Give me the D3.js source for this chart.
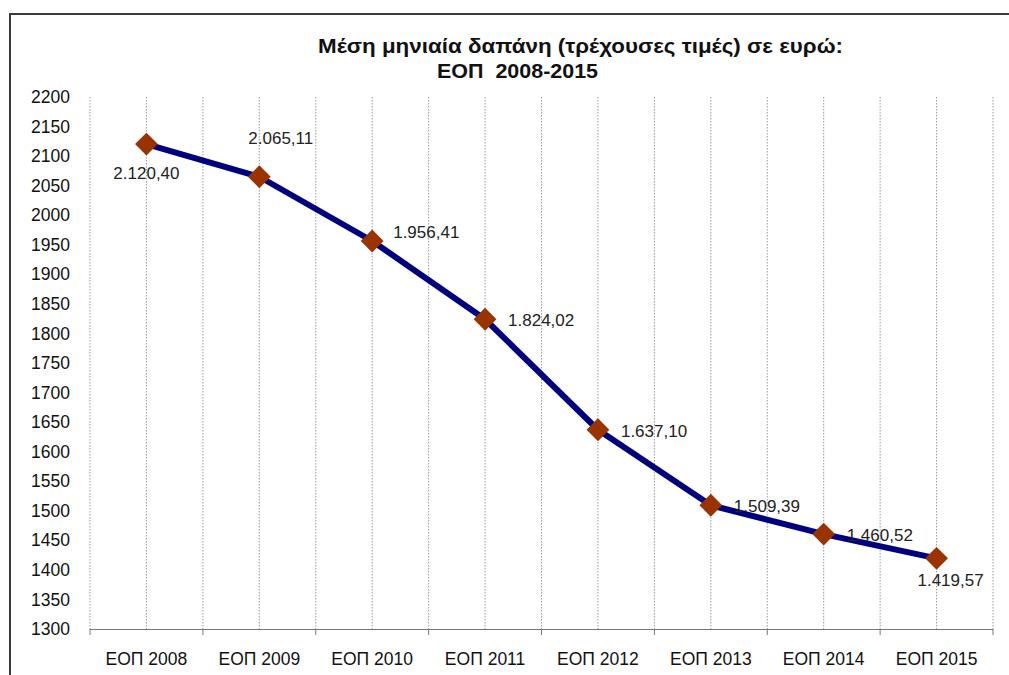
<!DOCTYPE html>
<html><head><meta charset="utf-8">
<script src="https://cdn.jsdelivr.net/npm/d3@7"></script>
<style>body{margin:0;background:#fff}svg{display:block}text{font-family:"Liberation Sans",Arial,sans-serif}</style>
</head><body><svg id="c" width="1009" height="675"></svg>
<script>
const categories = ["ΕΟΠ 2008","ΕΟΠ 2009","ΕΟΠ 2010","ΕΟΠ 2011","ΕΟΠ 2012","ΕΟΠ 2013","ΕΟΠ 2014","ΕΟΠ 2015"];
const values = [2120.40, 2065.11, 1956.41, 1824.02, 1637.10, 1509.39, 1460.52, 1419.57];
const valueLabels = ["2.120,40","2.065,11","1.956,41","1.824,02","1.637,10","1.509,39","1.460,52","1.419,57"];
const labelPlacement = ["below","above","rightUp","right","right","right","right","belowRight"];
const yTicks = d3.range(1300, 2201, 50);
const titleLines = ["Μέση μηνιαία δαπάνη (τρέχουσες τιμές) σε ευρώ:", "ΕΟΠ  2008-2015"];

const svg = d3.select("#c");
const pL = 90, pR = 993, pT = 97, pB = 629;

// frame
svg.append("rect").attr("x",10).attr("y",14).attr("width",1100).attr("height",800)
  .attr("fill","none").attr("stroke","#3a3a3a").attr("stroke-width",2);

// title
svg.append("text").attr("x",318).attr("y",53)
  .attr("font-size",21).attr("font-weight","bold").attr("fill","#111")
  .attr("textLength",525).attr("lengthAdjust","spacingAndGlyphs").text(titleLines[0]);
svg.append("text").attr("x",437).attr("y",78)
  .attr("font-size",21).attr("font-weight","bold").attr("fill","#111").style("white-space","pre")
  .attr("textLength",161).attr("lengthAdjust","spacingAndGlyphs").text(titleLines[1]);

const x = d3.scaleBand().domain(categories).range([pL,pR]).paddingInner(0).paddingOuter(0);
const y = d3.scaleLinear().domain([1300,2200]).range([pB,pT]);

// vertical gridlines at band edges and centres
const gx = [];
categories.forEach(c => { gx.push(x(c)); gx.push(x(c)+x.bandwidth()/2); });
gx.push(pR);
svg.append("g").selectAll("line").data(gx).join("line")
  .attr("x1",d=>d).attr("x2",d=>d).attr("y1",pT).attr("y2",pB)
  .attr("stroke","#9a9a9a").attr("stroke-width",1).attr("stroke-dasharray","1.5,1.5");

// x axis
const xAxis = d3.axisBottom(x).tickSize(0).tickPadding(24);
const gX = svg.append("g").attr("transform",`translate(0,${pB})`).call(xAxis);
gX.select(".domain").attr("stroke","#777").attr("d",`M${pL},0.5H${pR}`);
gX.selectAll("text").attr("font-size",17.5).attr("fill","#111").style("font-family","Liberation Sans, Arial, sans-serif");
// ticks at band boundaries
const bnd = categories.map(c=>x(c)).concat([pR]);
svg.append("g").selectAll("line").data(bnd).join("line")
  .attr("x1",d=>d).attr("x2",d=>d).attr("y1",pB).attr("y2",pB+6)
  .attr("stroke","#777");

// y axis
const yAxis = d3.axisLeft(y).tickValues(yTicks).tickSize(0).tickPadding(20).tickFormat(d3.format("d"));
const gY = svg.append("g").attr("transform",`translate(${pL},0)`).call(yAxis);
gY.select(".domain").remove();
gY.selectAll("text").attr("font-size",17.5).attr("fill","#111").style("font-family","Liberation Sans, Arial, sans-serif");

// line
const data = categories.map((c,i)=>({c, v:values[i], lab:valueLabels[i], p:labelPlacement[i]}));
const line = d3.line().x(d=>x(d.c)+x.bandwidth()/2).y(d=>y(d.v));
svg.append("path").datum(data).attr("d",line).attr("fill","none")
  .attr("stroke","#00007f").attr("stroke-width",6).attr("stroke-linejoin","round");

// markers
const sym = d3.symbol().type(d3.symbolSquare).size(260);
svg.append("g").selectAll("path").data(data).join("path")
  .attr("d",sym).attr("fill","#993300")
  .attr("transform",d=>`translate(${x(d.c)+x.bandwidth()/2},${y(d.v)}) rotate(45)`);

// labels
const off = {below:[0,29,"middle"], above:[-11,-39,"start"], rightUp:[21,-9,"start"], right:[23,1,"start"], belowRight:[14,22,"middle"]};
svg.append("g").selectAll("text").data(data).join("text")
  .attr("x",d=>x(d.c)+x.bandwidth()/2+off[d.p][0])
  .attr("y",d=>y(d.v)+off[d.p][1])
  .attr("dy","0.35em").attr("text-anchor",d=>off[d.p][2])
  .attr("font-size",17).attr("fill","#222").text(d=>d.lab);
</script></body></html>
